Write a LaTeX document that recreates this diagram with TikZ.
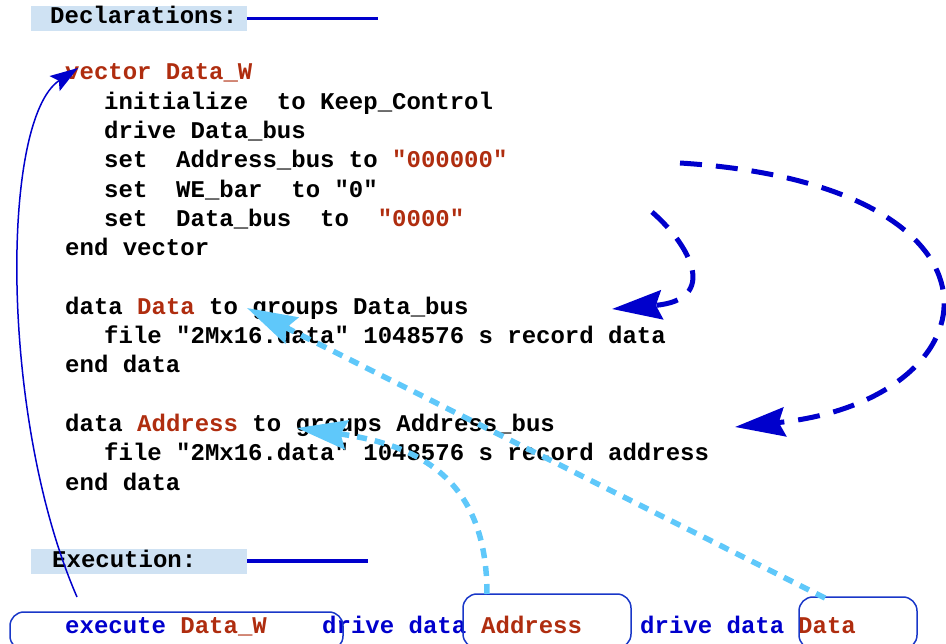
\documentclass[tikz,border=0pt]{standalone}
\usepackage{fontspec}
\setmonofont{Liberation Mono}
\usetikzlibrary{arrows.meta}

\definecolor{kwred}{RGB}{175,45,15}
\definecolor{kwblue}{RGB}{0,0,204}
\definecolor{boxblue}{RGB}{25,55,200}
\definecolor{hdrfill}{RGB}{207,226,243}
\definecolor{skyarrow}{RGB}{95,200,250}

\tikzset{
  code/.style={anchor=base west, inner sep=0pt,
    font=\fontsize{24}{29}\selectfont\ttfamily\bfseries},
  hdrbox/.style={fill=hdrfill, minimum width=216pt, minimum height=25pt, inner sep=0pt},
  hdrline/.style={kwblue, line width=3.8pt},
  runbox/.style={draw=boxblue, line width=1.5pt, rounded corners=14pt, inner sep=0pt},
  loopback/.style={kwblue, line width=1.5pt, -{Stealth[length=28pt,width=18pt,inset=5pt]}},
  busarrow/.style={kwblue, line width=5pt, dash pattern=on 22pt off 14pt,
    -{Stealth[length=50pt,width=29pt,inset=6pt]}},
  feedarrow/.style={skyarrow, line width=5.5pt, dash pattern=on 10pt off 8pt,
    -{Stealth[length=50pt,width=29pt,inset=6pt]}}
}

\begin{document}
\begin{tikzpicture}[x=1pt,y=-1pt]
  \useasboundingbox (0,0) rectangle (946,644);

  % headers
  \node[hdrbox] (declbox) at (139,18.5) {};
  \node[code] (decl) at (50,24) {Declarations:};
  \coordinate (declend) at (378,18.5);
  \draw[hdrline] (declbox.east) -- (declend);

  \node[hdrbox] (execbox) at (139,561) {};
  \node[code] (exec) at (52,567) {Execution:};
  \coordinate (execend) at (368,561);
  \draw[hdrline] (execbox.east) -- (execend);

  % vector block
  \node[code] (vec) at (65,80) {\textcolor{kwred}{vector Data\_W}};
  \node[code] (vinit) at (104,109.3) {initialize\ \ to Keep\_Control};
  \node[code] (vdrive) at (104,138.6) {drive Data\_bus};
  \node[code] (vaddr) at (104,167.9) {set\ \ Address\_bus to \textcolor{kwred}{"000000"}};
  \node[code] (vwe) at (104,197.2) {set\ \ WE\_bar\ \ to "0"};
  \node[code] (vdata) at (104,226.5) {set\ \ Data\_bus\ \ to\ \ \textcolor{kwred}{"0000"}};
  \node[code] (vend) at (65,255.8) {end vector};

  % data blocks
  \node[code] (dhead) at (65,314.4) {data \textcolor{kwred}{Data} to groups Data\_bus};
  \node[code] (dfile) at (104,343.7) {file "2Mx16.data" 1048576 s record data};
  \node[code] (dend) at (65,373) {end data};

  \node[code] (ahead) at (65,431.6) {data \textcolor{kwred}{Address} to groups Address\_bus};
  \node[code] (afile) at (104,460.9) {file "2Mx16.data" 1048576 s record address};
  \node[code] (aend) at (65,490.2) {end data};

  % execution line
  \node[code, kwblue] (runvec) at (65,633) {execute \textcolor{kwred}{Data\_W}};
  \node[code, kwblue] (drive1) at (322,633) {drive data};
  \node[code, kwred] (runaddr) at (481,633) {Address};
  \node[code, kwblue] (drive2) at (640,633) {drive data};
  \node[code, kwred] (rundata) at (798,633) {Data};

  \node[runbox, minimum width=333pt, minimum height=38pt] (vecbox) at (176.5,631) {};
  \node[runbox, minimum width=168pt, minimum height=54pt] (addrbox) at (547,621) {};
  \node[runbox, minimum width=118pt, minimum height=52pt] (databox) at (858,623) {};

  % connectors
  \coordinate (loopstart) at (77,597);
  \coordinate (looptip) at (78,68);
  \draw[loopback] (loopstart) .. controls (0,420) and (0,120) .. (looptip);

  \coordinate (inner0) at (652,212);
  \coordinate (inner1) at (612,309);
  \draw[busarrow] (inner0) .. controls (690,245) and (720,300) .. (inner1);

  \coordinate (outer0) at (680,163);
  \coordinate (outer1) at (735,427);
  \draw[busarrow] (outer0) .. controls (1030,185) and (1000,400) .. (outer1);

  \coordinate (addrsrc) at (487,594);
  \coordinate (addrtip) at (297,428);
  \draw[feedarrow] (addrsrc) .. controls (487,480) and (420,445) .. (addrtip);

  \coordinate (datasrc) at (825,598);
  \coordinate (datatip) at (247,308);
  \draw[feedarrow] (datasrc) -- (datatip);
\end{tikzpicture}
\end{document}
